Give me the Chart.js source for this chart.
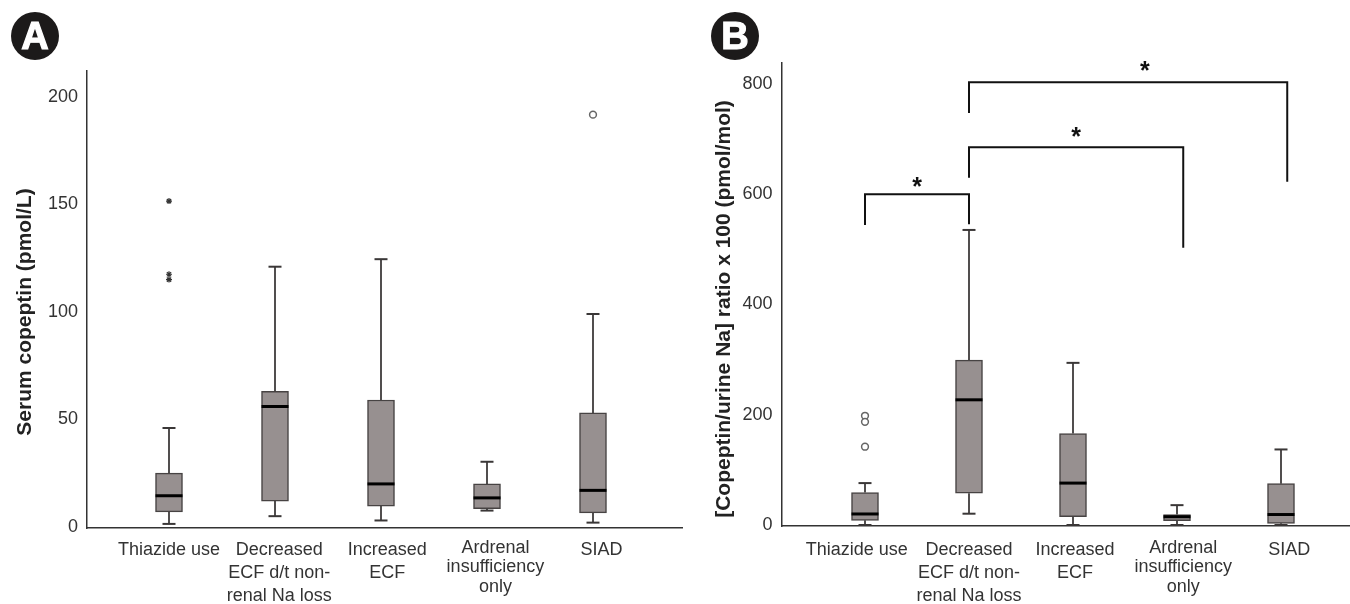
<!DOCTYPE html>
<html><head><meta charset="utf-8">
<script src="https://cdn.jsdelivr.net/npm/chart.js@4"></script>
<style>
html,body{margin:0;padding:0;background:#fff;width:1350px;height:604px;overflow:hidden}
#wa,#wb{position:absolute;top:0;height:604px}
#wa{left:0;width:690px}#wb{left:690px;width:660px}
.badge{position:absolute;top:12px;width:48px;height:48px;border-radius:50%;background:#1c1a1a;color:#fff;
font:bold 38px "Liberation Sans",Arial,sans-serif;line-height:48px;text-align:center;-webkit-text-stroke:1.2px #fff;z-index:2}
</style></head><body>
<div id="wa"><canvas id="a"></canvas></div>
<div id="wb"><canvas id="b"></canvas></div>
<div class="badge" style="left:11px">A</div>
<div class="badge" style="left:711px">B</div>
<script>
const categories=[["Thiazide use"],["Decreased","ECF d/t non-","renal Na loss"],["Increased","ECF"],["Ardrenal","insufficiency","only"],["SIAD"]];
const boxSlots=[1,2,3,4,5];

const aLow=[1.4,5,3,7.6,2];
const aQ1=[7,12,9.7,8.5,6.5];
const aMedian=[14.5,56,20,13.5,17];
const aQ3=[25,63,59,20,53];
const aHigh=[46,121,124.5,30.3,99];
const aStarOutliers=[[1,151.5],[1,117.5],[1,115]];
const aCircleOutliers=[[5,191.7]];
const aYTicks=[0,50,100,150,200];
const aLabelSlots=[1,2.04,3.06,4.08,5.08];

const bLow=[0,20.5,0,0,0];
const bQ1=[8.5,57.5,15,8,3];
const bMedian=[20,227,76,15,19];
const bQ3=[59,299,166,19,75];
const bHigh=[76,535,294,36,137];
const bCircleOutliers=[[1,198],[1,187],[1,142]];
const bYTicks=[0,200,400,600,800];
const bLabelSlots=[0.92,2,3.02,4.06,5.08];
const bBrackets=[
  [[1,546],[1,599.5],[2,599.5],[2,547]],
  [[2,631.5],[2,684.8],[4.06,684.8],[4.06,504.6]],
  [[2,749],[2,802.7],[5.06,802.7],[5.06,624]]
];
const bStars=[[1.5,618],[3.03,709],[3.69,828.7]];

const pts=a=>a.map(p=>({x:p[0],y:p[1]}));
const FONT='"Liberation Sans",Arial,sans-serif', TXT='#333';

function datasets(low,q1,med,q3,high,stars,circles,brackets){
  const stems=[];
  boxSlots.forEach((s,i)=>{stems.push({x:s,y:low[i]},{x:s,y:q1[i]},{x:s,y:null},{x:s,y:q3[i]},{x:s,y:high[i]},{x:s,y:null});});
  const line={type:'line',clip:false,order:1,tension:0,spanGaps:false};
  const caps=boxSlots.flatMap((s,i)=>[{x:s,y:low[i]},{x:s,y:high[i]}]);
  const ds=[
   {type:'bar',order:3,data:boxSlots.map((s,i)=>({x:s,y:[q1[i],q3[i]]})),barThickness:27,
    backgroundColor:'#979090',borderColor:'#474343',borderWidth:1.5,borderSkipped:false},
   {...line,order:2,data:stems,borderColor:'#3f3c3c',borderWidth:1.8,pointRadius:0},
   {...line,showLine:false,data:caps,pointStyle:'line',pointRadius:6.5,pointBorderWidth:2,pointBorderColor:'#3a3737',pointBackgroundColor:'#3a3737'},
   {...line,showLine:false,data:boxSlots.map((s,i)=>({x:s,y:med[i]})),pointStyle:'line',pointRadius:13.5,pointBorderWidth:3,pointBorderColor:'#000',pointBackgroundColor:'#000'}
  ];
  if(stars.length)ds.push({...line,showLine:false,data:pts(stars),pointStyle:'star',pointRadius:3,pointBorderWidth:1.2,pointBorderColor:'#333',pointBackgroundColor:'#333'});
  if(circles.length)ds.push({...line,showLine:false,data:pts(circles),pointStyle:'circle',pointRadius:3.4,pointBorderWidth:1.5,pointBorderColor:'#666',pointBackgroundColor:'#fff'});
  brackets.forEach(b=>ds.push({...line,data:pts(b),borderColor:'#111',borderWidth:2,pointRadius:0,borderCapStyle:'square'}));
  return ds;
}

const overlay={id:'overlay',afterDraw(c,_,o){
  const g=c.ctx;g.save();
  g.font='bold 21px '+FONT;g.fillStyle='#222';g.textAlign='center';g.textBaseline='middle';
  g.translate(o.titleX,o.titleY);g.rotate(-Math.PI/2);g.fillText(o.title,0,0);g.restore();
  g.save();g.font='bold 25px '+FONT;g.fillStyle='#111';g.textAlign='center';g.textBaseline='alphabetic';
  (o.stars||[]).forEach(s=>g.fillText('*',c.scales.x.getPixelForValue(s[0]),c.scales.y.getPixelForValue(s[1])+11));
  g.restore();
}};

function build(id,ds,cfg){
  new Chart(document.getElementById(id),{
   data:{datasets:ds},
   plugins:[overlay],
   options:{responsive:false,animation:false,
    layout:{autoPadding:false,padding:{top:cfg.top,right:cfg.right,left:0,bottom:0}},
    plugins:{legend:{display:false},tooltip:{enabled:false},overlay:{title:cfg.title,titleX:cfg.titleX,titleY:cfg.titleY,stars:cfg.stars}},
    scales:{
     x:{type:'linear',offset:false,min:cfg.xMin,max:cfg.xMax,
        afterBuildTicks(s){s.ticks=cfg.labelSlots.map(v=>({value:v}));},
        afterFit(s){s.height=cfg.xH;s.paddingLeft=0;s.paddingRight=0;},
        grid:{display:false,drawTicks:false},
        border:{color:'#333',width:1.5},
        ticks:{autoSkip:false,maxRotation:0,minRotation:0,padding:cfg.xPad,color:TXT,
          font:ctx=>({family:FONT,size:18,lineHeight:ctx.index===3?'19.5px':'23.4px'}),
          callback:(v,i)=>categories[i]}},
     y:{type:'linear',min:cfg.yMin,max:cfg.yMax,
        afterBuildTicks(s){s.ticks=cfg.yTicks.map(v=>({value:v}));},
        afterFit(s){s.width=cfg.yW;s.paddingTop=0;s.paddingBottom=0;},
        grid:{display:false,drawTicks:false},
        border:{color:'#333',width:1.5},
        ticks:{padding:9,color:TXT,font:{family:FONT,size:18},callback:v=>String(v)}}
    }}
  });
}
for(const [id,w] of [['a',690],['b',660]]){const e=document.getElementById(id);e.width=w;e.height=604;e.style.display='block';}

build('a',datasets(aLow,aQ1,aMedian,aQ3,aHigh,aStarOutliers,aCircleOutliers,[]),
 {top:71,right:8,yW:87,xH:76,xMin:1-82/106,xMax:1+513/106,yMin:-0.5,yMax:212,yTicks:aYTicks,labelSlots:aLabelSlots,xPad:10,
  title:'Serum copeptin (pmol/L)',titleX:25,titleY:312,stars:[]});
build('b',datasets(bLow,bQ1,bMedian,bQ3,bHigh,[],bCircleOutliers,bBrackets),
 {top:63,right:0,yW:91.5,xH:78,xMin:1-83.5/104,xMax:1+485/104,yMin:-1.8,yMax:837.7,yTicks:bYTicks,labelSlots:bLabelSlots,xPad:12,
  title:'[Copeptin/urine Na] ratio x 100 (pmol/mol)',titleX:34,titleY:309,stars:bStars});
</script>
</body></html>
